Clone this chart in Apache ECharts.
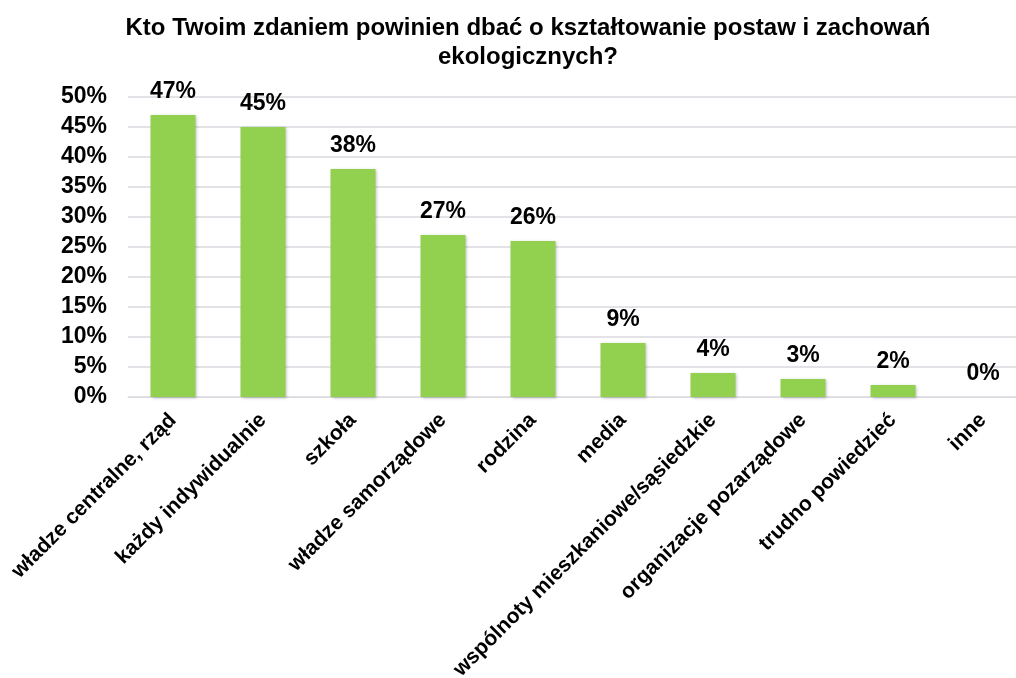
<!DOCTYPE html>
<html>
<head>
<meta charset="utf-8">
<script src="https://cdn.jsdelivr.net/npm/echarts@6/dist/echarts.min.js"></script>
<style>
  html, body { margin: 0; padding: 0; background: #fff; overflow: hidden; }
  #chart { width: 1016px; height: 678px; }
</style>
</head>
<body>
<div id="chart"></div>
<script>
const categories = [
  "władze centralne, rząd",
  "każdy indywidualnie",
  "szkoła",
  "władze samorządowe",
  "rodzina",
  "media",
  "wspólnoty mieszkaniowe/sąsiedzkie",
  "organizacje pozarządowe",
  "trudno powiedzieć",
  "inne"
];
const values = [47, 45, 38, 27, 26, 9, 4, 3, 2, 0];

const chart = echarts.init(document.getElementById("chart"));
chart.setOption({
  animation: false,
  textStyle: { fontFamily: "Liberation Sans, Arial, sans-serif" },
  title: {
    text: "Kto Twoim zdaniem powinien dbać o kształtowanie postaw i zachowań\nekologicznych?",
    left: 523,
    textAlign: "center",
    top: 9,
    textStyle: {
      fontSize: 24,
      fontWeight: "bold",
      color: "#000",
      lineHeight: 29,
      fontFamily: "Liberation Sans, Arial, sans-serif"
    }
  },
  // outerBoundsMode none: keep the plot where it is, let long labels run off the edge
  grid: {
    left: 128, right: -12, top: 97, bottom: 281,
    containLabel: false,
    outerBoundsMode: "none"
  },
  xAxis: {
    type: "category",
    data: categories,
    axisLine: { lineStyle: { color: "#d9d9df" } },
    axisTick: { show: false },
    axisLabel: {
      interval: 0,
      rotate: 45,
      margin: 20,
      color: "#000",
      fontSize: 21,
      fontWeight: "bold"
    }
  },
  yAxis: {
    type: "value",
    min: 0,
    max: 50,
    interval: 5,
    axisLine: { show: false },
    axisTick: { show: false },
    splitLine: { lineStyle: { color: "#d9d9df", width: 1.5 } },
    axisLabel: {
      formatter: "{value}%",
      margin: 21,
      color: "#000",
      fontSize: 23,
      fontWeight: "bold"
    }
  },
  series: [{
    type: "bar",
    data: values,
    barWidth: "50%",
    itemStyle: {
      color: "#92d050",
      shadowColor: "rgba(0,0,0,0.25)",
      shadowBlur: 3,
      shadowOffsetX: 1,
      shadowOffsetY: 1
    },
    label: {
      show: true,
      position: "top",
      distance: 12,
      formatter: "{c}%",
      color: "#000",
      fontSize: 23,
      fontWeight: "bold"
    }
  }]
});
</script>
</body>
</html>
